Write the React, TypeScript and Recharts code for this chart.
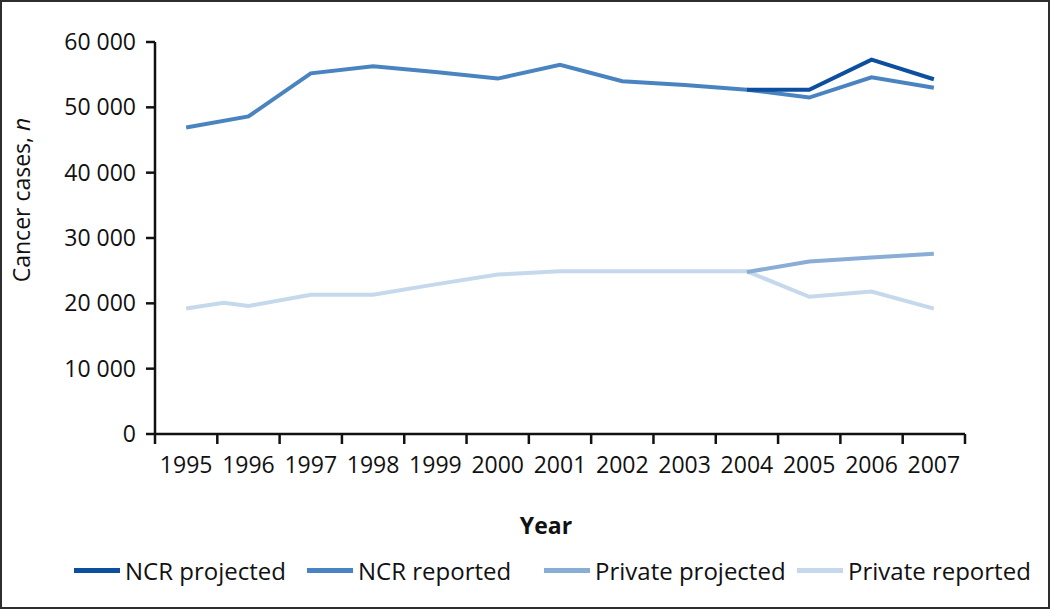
import { LineChart, Line, XAxis, YAxis } from 'recharts';

// Years shown on the x axis, one label per band
const years = [1995, 1996, 1997, 1998, 1999, 2000, 2001, 2002, 2003, 2004, 2005, 2006, 2007];
// Band edges where the axis tick marks sit
const yearEdges = [1994.5, 1995.5, 1996.5, 1997.5, 1998.5, 1999.5, 2000.5, 2001.5, 2002.5, 2003.5, 2004.5, 2005.5, 2006.5, 2007.5];
const yTicks = [0, 10000, 20000, 30000, 40000, 50000, 60000];

// Series values
const ncrReported = [46900, 48600, 55200, 56300, 55400, 54400, 56500, 54000, 53400, 52700, 51500, 54600, 53000];
const ncrProjectedYears = [2004, 2005, 2006, 2007];
const ncrProjected = [52700, 52700, 57300, 54300];
const privateReportedYears = [1995, 1995.6, 1996, 1997, 1998, 1999, 2000, 2001, 2002, 2003, 2004, 2005, 2006, 2007];
const privateReported = [19200, 20100, 19600, 21300, 21300, 22900, 24400, 24900, 24900, 24900, 24900, 21000, 21800, 19200];
const privateProjectedYears = [2004, 2005, 2006, 2007];
const privateProjected = [24800, 26400, 27000, 27600];

const toPoints = (xs: number[], vs: number[]) => xs.map((year, i) => ({ year, value: vs[i] }));

const series = [
  { name: 'NCR reported', color: '#4a84c0', data: toPoints(years, ncrReported) },
  { name: 'Private reported', color: '#c6d8ec', data: toPoints(privateReportedYears, privateReported) },
  { name: 'NCR projected', color: '#0d4f9e', data: toPoints(ncrProjectedYears, ncrProjected) },
  { name: 'Private projected', color: '#8aadd6', data: toPoints(privateProjectedYears, privateProjected) },
];
// legend order and where each entry starts
const legendOrder = ['NCR projected', 'NCR reported', 'Private projected', 'Private reported'];
const legendLeft = [74, 307, 544, 797];

const FONT = '"Open Sans", "Noto Sans", sans-serif';
const fmt = (v: number) => (v === 0 ? '0' : `${v / 1000} 000`);

const YLabel = () => (
  <text x={30} y={200} transform="rotate(-90 30 200)" textAnchor="middle" fontSize={23} fontFamily={FONT} fill="#111">
    Cancer cases, <tspan fontStyle="italic">n</tspan>
  </text>
);

const XLabel = ({ viewBox }: any) => (
  <text x={viewBox.x + viewBox.width / 2 - 14} y={viewBox.y + 99} textAnchor="middle" fontSize={23} fontWeight="bold" fontFamily={FONT} fill="#111">
    Year
  </text>
);

export default function App() {
  return (
    <div style={{ position: 'absolute', top: 0, left: 0, width: 1050, height: 609, background: '#fff', fontFamily: FONT }}>
      <LineChart width={1050} height={609} margin={{ top: 42, right: 85, bottom: 74, left: 0 }}>
        {/* tick marks at the band edges, no labels */}
        <XAxis
          xAxisId="edges"
          type="number"
          dataKey="year"
          domain={[1994.5, 2007.5]}
          ticks={yearEdges}
          interval={0}
          height={1}
          tickSize={10}
          tickFormatter={() => ''}
          axisLine={{ stroke: '#111', strokeWidth: 2.5 }}
          tickLine={{ stroke: '#111', strokeWidth: 2.5 }}
          allowDataOverflow
        />
        <XAxis
          xAxisId="years"
          type="number"
          dataKey="year"
          domain={[1994.5, 2007.5]}
          ticks={years}
          interval={0}
          height={100}
          tickSize={0}
          tickMargin={22}
          tickLine={false}
          axisLine={false}
          tick={{ fontSize: 23, fill: '#111', fontFamily: FONT }}
          label={<XLabel />}
          allowDataOverflow
        />
        <YAxis
          type="number"
          domain={[0, 60000]}
          ticks={yTicks}
          width={155}
          tickSize={9}
          tickMargin={10}
          tickFormatter={fmt}
          axisLine={{ stroke: '#111', strokeWidth: 2.5 }}
          tickLine={{ stroke: '#111', strokeWidth: 2.5 }}
          tick={{ fontSize: 23, fill: '#111', fontFamily: FONT }}
          label={<YLabel />}
        />
        {series.map(s => (
          <Line
            key={s.name}
            xAxisId="years"
            data={s.data}
            dataKey="value"
            name={s.name}
            type="linear"
            stroke={s.color}
            strokeWidth={4}
            dot={false}
            activeDot={false}
            isAnimationActive={false}
          />
        ))}
      </LineChart>

      {legendOrder.map((name, i) => {
        const s = series.find(x => x.name === name)!;
        return (
          <div key={name} style={{ position: 'absolute', top: 554, left: legendLeft[i], display: 'flex', alignItems: 'center', gap: 5, fontSize: 24, color: '#111', whiteSpace: 'nowrap' }}>
            <span style={{ display: 'inline-block', width: 46, height: 5, background: s.color }} />
            <span>{name}</span>
          </div>
        );
      })}

      {/* frame round the whole figure */}
      <div style={{ position: 'absolute', top: 0, left: 0, width: 1050, height: 609, boxSizing: 'border-box', border: '2px solid #2e2e2e', pointerEvents: 'none', zIndex: 5 }} />
    </div>
  );
}
